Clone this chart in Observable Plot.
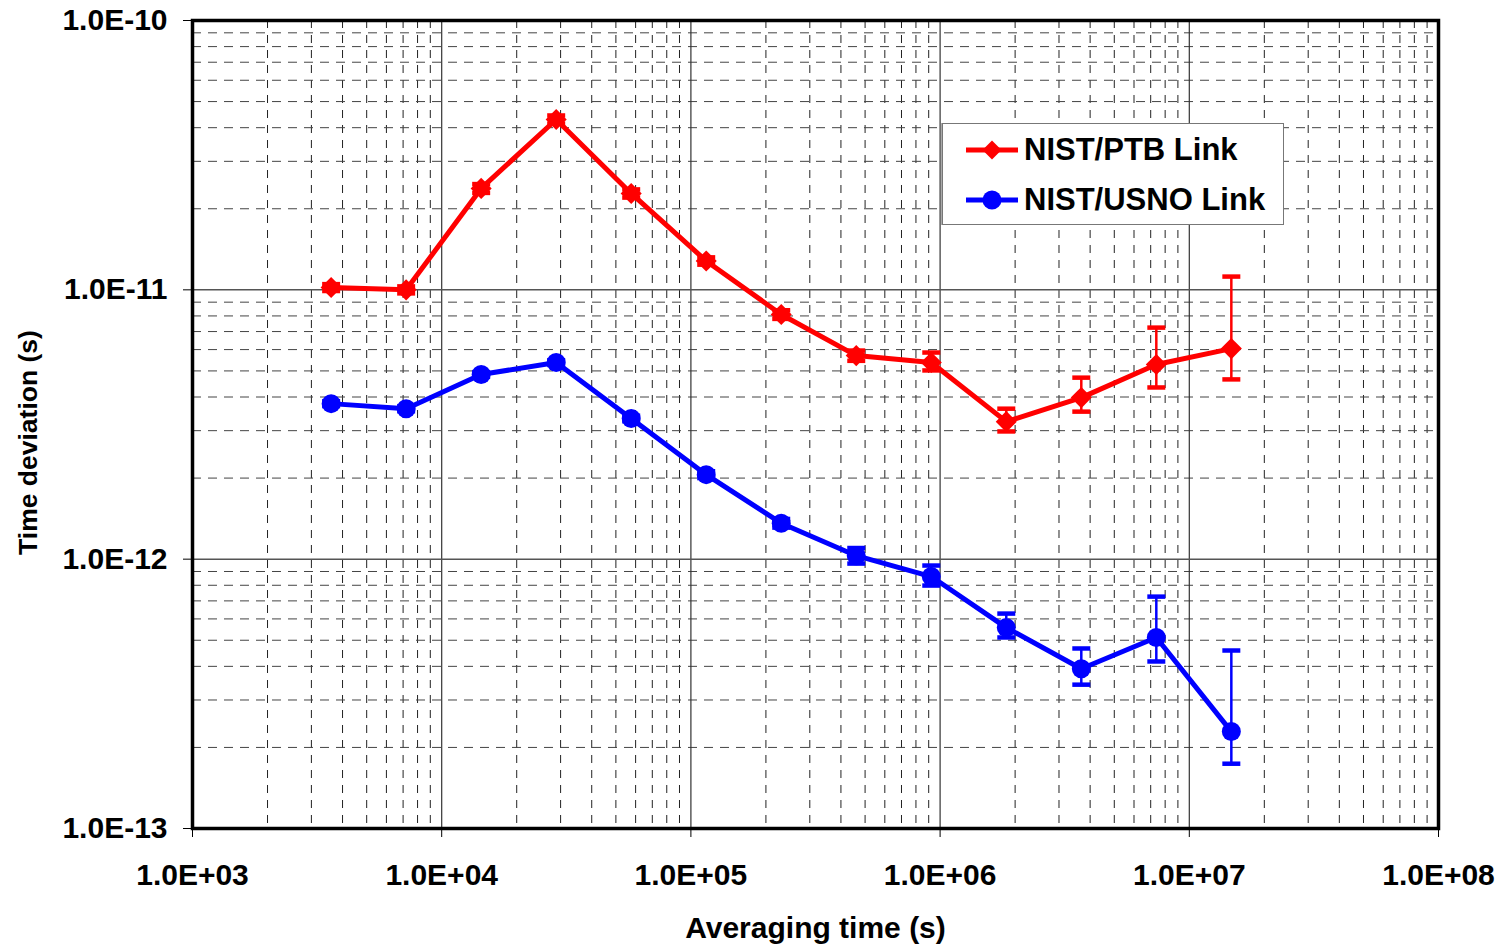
<!DOCTYPE html>
<html>
<head>
<meta charset="utf-8">
<script src="https://cdn.jsdelivr.net/npm/d3@7"></script>
<script src="https://cdn.jsdelivr.net/npm/@observablehq/plot@0.6"></script>
<style>
  html, body { margin: 0; padding: 0; background: #fff; }
  #wrap { position: relative; width: 1506px; height: 949px; font-family: "Liberation Sans", Arial, sans-serif; }
  #legend { position: absolute; left: 942px; top: 123px; width: 340px; height: 100px; border: 1px solid #777; background: #fff; box-shadow: -1px 0 0 #aaa; }
  .row { position: absolute; left: 0; height: 40px; display: flex; align-items: center; }
  .row svg { margin-left: 23px; }
  .row span { font-weight: bold; font-size: 31px; margin-left: 6px; color: #000; white-space: nowrap; }
</style>
</head>
<body>
<div id="wrap"></div>
<script>
// Averaging times (s)
const tau = [3600, 7200, 14400, 28800, 57600, 115200, 230400, 460800, 921600, 1843200, 3686400, 7372800, 14745600];

// NIST/PTB Link
const ptb   = [1.02e-11, 1.0e-11, 2.38e-11, 4.29e-11, 2.28e-11, 1.28e-11, 8.1e-12, 5.7e-12, 5.37e-12, 3.24e-12, 3.98e-12, 5.28e-12, 6.05e-12];
const ptbLo = [0.99e-11, 0.97e-11, 2.29e-11, 4.14e-11, 2.20e-11, 1.24e-11, 7.8e-12, 5.45e-12, 5.02e-12, 2.98e-12, 3.53e-12, 4.34e-12, 4.65e-12];
const ptbHi = [1.05e-11, 1.03e-11, 2.47e-11, 4.44e-11, 2.36e-11, 1.32e-11, 8.4e-12, 5.95e-12, 5.85e-12, 3.62e-12, 4.72e-12, 7.24e-12, 1.12e-11];

// NIST/USNO Link
const usno   = [3.78e-12, 3.62e-12, 4.85e-12, 5.37e-12, 3.33e-12, 2.06e-12, 1.36e-12, 1.03e-12, 8.62e-13, 5.57e-13, 3.92e-13, 5.12e-13, 2.29e-13];
const usnoLo = [3.70e-12, 3.54e-12, 4.75e-12, 5.26e-12, 3.25e-12, 2.00e-12, 1.31e-12, 9.63e-13, 7.98e-13, 5.12e-13, 3.42e-13, 4.17e-13, 1.74e-13];
const usnoHi = [3.86e-12, 3.70e-12, 4.95e-12, 5.48e-12, 3.41e-12, 2.12e-12, 1.41e-12, 1.10e-12, 9.47e-13, 6.28e-13, 4.66e-13, 7.26e-13, 4.58e-13];

// Axis ticks
const xMajor = [1e3, 1e4, 1e5, 1e6, 1e7, 1e8];
const yMajor = [1e-13, 1e-12, 1e-11, 1e-10];
const xTickLabels = ["1.0E+03", "1.0E+04", "1.0E+05", "1.0E+06", "1.0E+07", "1.0E+08"];
const yTickLabels = ["1.0E-13", "1.0E-12", "1.0E-11", "1.0E-10"];

const series = [
  {name: "NIST/PTB Link", color: "#ff0000", symbol: "diamond2", r: 9.5, v: ptb, lo: ptbLo, hi: ptbHi},
  {name: "NIST/USNO Link", color: "#0000ff", symbol: "circle", r: 9.5, v: usno, lo: usnoLo, hi: usnoHi}
];

const rows = series.map(s => tau.map((t, i) => ({tau: t, v: s.v[i], lo: s.lo[i], hi: s.hi[i], name: s.name})));

// minor grid values (2..9 within each decade)
const isMajor = (v, majors) => majors.some(m => Math.abs(v / m - 1) < 1e-9);
const xMinor = d3.scaleLog().domain([1e3, 1e8]).ticks().filter(v => !isMajor(v, xMajor));
const yMinor = d3.scaleLog().domain([1e-13, 1e-10]).ticks().filter(v => !isMajor(v, yMajor));

const labelFor = (majors, labels) => d => {
  const i = majors.findIndex(m => Math.abs(d / m - 1) < 1e-9);
  return i >= 0 ? labels[i] : "";
};

const capSymbol = {
  draw(ctx, size) {
    const w = Math.sqrt(size / Math.PI);
    ctx.moveTo(-w, 0);
    ctx.lineTo(w, 0);
  }
};

const font = "Liberation Sans, Arial, sans-serif";

const marks = [
  Plot.ruleX(xMinor, {stroke: "#222", strokeWidth: 1, strokeDasharray: "8,7"}),
  Plot.ruleY(yMinor, {stroke: "#444", strokeWidth: 1, strokeDasharray: "9,7"}),
  Plot.ruleX(xMajor.slice(1, -1), {stroke: "#333", strokeWidth: 1.2}),
  Plot.ruleY(yMajor.slice(1, -1), {stroke: "#555", strokeWidth: 1.5}),
  Plot.frame({stroke: "#000", strokeWidth: 3.5}),
  Plot.axisX(xMajor, {tickFormat: labelFor(xMajor, xTickLabels), tickSize: 9, tickPadding: 26, fontSize: 30, fontWeight: "bold", label: null, stroke: "#000", fill: "#000"}),
  Plot.axisY(yMajor, {tickFormat: labelFor(yMajor, yTickLabels), tickSize: 9, tickPadding: 16, fontSize: 30, fontWeight: "bold", label: null, stroke: "#000", fill: "#000"}),
  Plot.text(["Averaging time (s)"], {text: d => d, frameAnchor: "bottom", lineAnchor: "middle", textAnchor: "middle", dy: 100, fontSize: 30, fontWeight: "bold", fill: "#000"}),
  Plot.text(["Time deviation (s)"], {text: d => d, frameAnchor: "left", lineAnchor: "middle", textAnchor: "middle", dx: -164, dy: 18, rotate: -90, fontSize: 26.5, fontWeight: "bold", fill: "#000"})
];

series.forEach((s, k) => {
  const d = rows[k];
  marks.push(
    Plot.line(d, {x: "tau", y: "v", stroke: s.color, strokeWidth: 5}),
    Plot.ruleX(d, {x: "tau", y1: "lo", y2: "hi", stroke: s.color, strokeWidth: 2.5}),
    Plot.dot(d, {x: "tau", y: "lo", symbol: capSymbol, r: 9, stroke: s.color, strokeWidth: 4.5, fill: "none"}),
    Plot.dot(d, {x: "tau", y: "hi", symbol: capSymbol, r: 9, stroke: s.color, strokeWidth: 4.5, fill: "none"}),
    Plot.dot(d, {x: "tau", y: "v", symbol: s.symbol, r: s.r, fill: s.color, stroke: "none"})
  );
});

const chart = Plot.plot({
  width: 1506,
  height: 949,
  marginLeft: 192,
  marginRight: 68,
  marginTop: 20,
  marginBottom: 121,
  style: {fontFamily: font, background: "#fff", color: "#000", overflow: "visible"},
  x: {type: "log", domain: [1e3, 1e8]},
  y: {type: "log", domain: [1e-13, 1e-10]},
  marks
});

const wrap = document.getElementById("wrap");
wrap.appendChild(chart);

// Legend
const legend = document.createElement("div");
legend.id = "legend";
series.forEach((s, k) => {
  const row = document.createElement("div");
  row.className = "row";
  row.style.top = (k === 0 ? 6 : 56) + "px";
  const sw = d3.create("svg").attr("width", 52).attr("height", 24);
  sw.append("line").attr("x1", 0).attr("x2", 52).attr("y1", 12).attr("y2", 12).attr("stroke", s.color).attr("stroke-width", 5);
  if (s.symbol === "circle") {
    sw.append("circle").attr("cx", 26).attr("cy", 12).attr("r", 9.5).attr("fill", s.color);
  } else {
    sw.append("path").attr("d", "M26,2.5L35.5,12L26,21.5L16.5,12Z").attr("fill", s.color);
  }
  row.appendChild(sw.node());
  const label = document.createElement("span");
  label.textContent = s.name;
  row.appendChild(label);
  legend.appendChild(row);
});
wrap.appendChild(legend);
</script>
</body>
</html>
